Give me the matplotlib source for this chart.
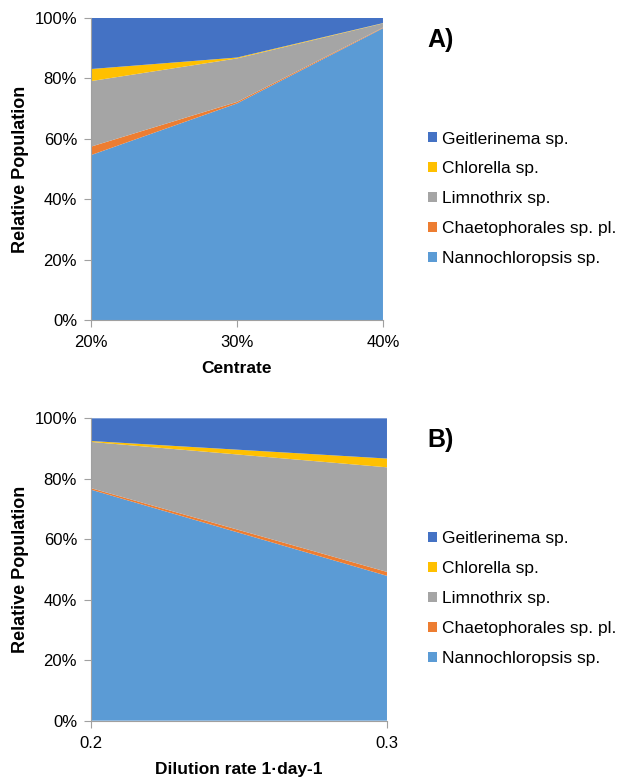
import matplotlib
matplotlib.use("Agg")
import matplotlib.pyplot as plt
import numpy as np

plt.rcParams['font.family'] = ['Liberation Sans', 'DejaVu Sans']

species = ["Nannochloropsis sp.", "Chaetophorales sp. pl.", "Limnothrix sp.", "Chlorella sp.", "Geitlerinema sp."]
colors = ["#5B9BD5", "#ED7D31", "#A5A5A5", "#FFC000", "#4472C4"]

# Panel A
centrate_labels = ["20%", "30%", "40%"]
a_nanno = [54.6, 71.7, 96.6]
a_chaeto = [2.8, 0.5, 0.2]
a_limno = [21.7, 14.4, 1.4]
a_chlorella = [4.0, 0.3, 0.1]
a_geitler = [16.9, 13.1, 1.7]

# Panel B
dilution_labels = ["0.2", "0.3"]
b_nanno = [76.4, 47.9]
b_chaeto = [0.5, 1.3]
b_limno = [15.3, 34.6]
b_chlorella = [0.3, 2.9]
b_geitler = [7.5, 13.3]

fig = plt.figure(figsize=(6.17, 7.78), dpi=100)

def draw(ax, labels, series, xlabel, tag, legend_y):
    x = np.arange(len(labels))
    ax.stackplot(x, *[np.array(s) / 100 for s in series], colors=colors, labels=species)
    ax.set_xlim(0, len(labels) - 1)
    ax.set_ylim(0, 1)
    ax.set_xticks(x)
    ax.set_xticklabels(labels, fontsize=12)
    ax.set_yticks(np.arange(0, 1.01, 0.2))
    ax.set_yticklabels([f"{int(round(v*100))}%" for v in np.arange(0, 1.01, 0.2)], fontsize=12)
    ax.set_xlabel(xlabel, fontsize=12.5, fontweight='bold', labelpad=8)
    ax.set_ylabel("Relative Population", fontsize=13, fontweight='bold', labelpad=4)
    for s in ['top', 'right']:
        ax.spines[s].set_visible(False)
    for s in ['left', 'bottom']:
        ax.spines[s].set_color('#A0A0A0')
    ax.tick_params(axis='both', colors='#A0A0A0', labelcolor='black', length=5, direction='out')
    ax.tick_params(axis='x', pad=6)
    ax.tick_params(axis='y', pad=5)
    handles, lbls = ax.get_legend_handles_labels()
    fig.legend(handles[::-1], lbls[::-1], loc='upper left', bbox_to_anchor=(0.669, legend_y),
               frameon=False, fontsize=12.5, handlelength=0.5, handleheight=0.5,
               handletextpad=0.3, labelspacing=0.86)
    fig.text(0.693, ax.get_position().y1 - 0.037, tag, fontsize=18, fontweight='bold')

ax1 = fig.add_axes([0.1475, 0.5887, 0.4732, 0.3882])
draw(ax1, centrate_labels, [a_nanno, a_chaeto, a_limno, a_chlorella, a_geitler],
     "Centrate", "A)", 0.851)

ax2 = fig.add_axes([0.1475, 0.0737, 0.4797, 0.3886])
draw(ax2, dilution_labels, [b_nanno, b_chaeto, b_limno, b_chlorella, b_geitler],
     "Dilution rate 1\u00b7day-1", "B)", 0.337)

fig.savefig("out.png", dpi=100)
